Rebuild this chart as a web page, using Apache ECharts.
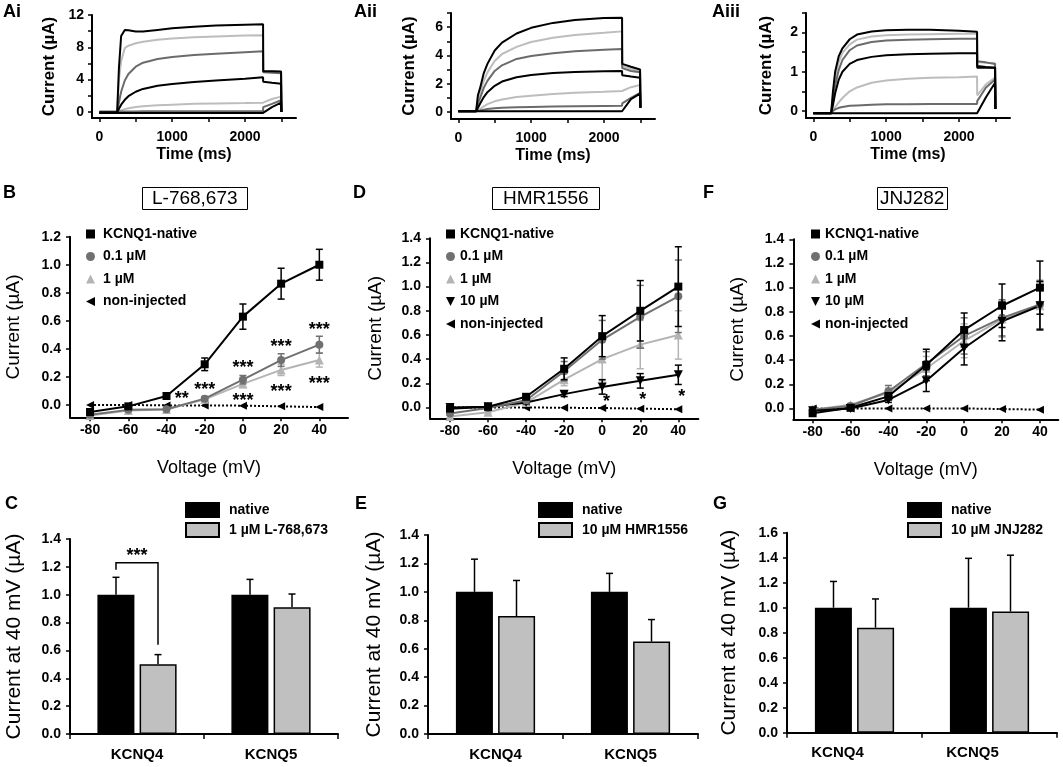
<!DOCTYPE html>
<html><head><meta charset="utf-8">
<script src="https://cdn.jsdelivr.net/npm/echarts@6/dist/echarts.min.js"></script>
<style>html,body{margin:0;padding:0;background:#fff}#c{width:1063px;height:767px}</style>
</head><body><div id="c"></div>
<script>
// ===================== DATA =====================
// Row A: current traces (µA) sampled at these times (ms)
const traceTimes = [0, 245, 270, 300, 350, 400, 500, 600, 800, 1000, 1300, 1600, 2000, 2248, 2250, 2370, 2495, 2500];
const aiTraces = [
  [-0.1, -0.1, 5.5, 9.4, 10.15, 10.1, 9.95, 9.95, 10.15, 10.35, 10.55, 10.7, 10.8, 10.85, 5.05, 5.05, 5.0, 0],
  [-0.05, -0.05, 4.0, 6.3, 7.9, 8.2, 8.5, 8.7, 8.95, 9.1, 9.25, 9.35, 9.45, 9.5, 5.0, 5.0, 4.95, 0],
  [0, 0, 1.2, 2.5, 3.9, 4.7, 5.6, 6.1, 6.55, 6.8, 7.05, 7.2, 7.4, 7.5, 4.9, 4.85, 4.8, 0],
  [-0.05, -0.05, 0.4, 0.9, 1.5, 1.95, 2.5, 2.85, 3.25, 3.45, 3.7, 3.9, 4.1, 4.3, 3.75, 3.6, 3.5, 0],
  [0, 0, 0.1, 0.2, 0.35, 0.45, 0.6, 0.7, 0.82, 0.9, 1.0, 1.05, 1.1, 1.15, 1.35, 1.6, 1.9, 0],
  [0.05, 0.05, 0.05, 0.06, 0.06, 0.07, 0.07, 0.08, 0.08, 0.09, 0.09, 0.1, 0.1, 0.1, 0.6, 1.0, 1.45, 0],
  [-0.12, -0.12, -0.12, -0.12, -0.12, -0.12, -0.12, -0.12, -0.12, -0.12, -0.12, -0.12, -0.12, -0.12, -0.05, 0.6, 1.15, 0]
];
const aiiTraces = [
  [0.05, 0.05, 1.2, 1.7, 2.75, 3.4, 4.35, 4.9, 5.55, 5.95, 6.3, 6.5, 6.65, 6.67, 3.4, 3.2, 3.0, 0.3],
  [0.05, 0.05, 0.9, 1.4, 2.2, 2.8, 3.6, 4.1, 4.6, 4.95, 5.25, 5.45, 5.6, 5.7, 3.25, 3.05, 2.85, 0.3],
  [0.05, 0.05, 0.6, 1.0, 1.7, 2.2, 2.9, 3.3, 3.75, 3.95, 4.15, 4.3, 4.4, 4.45, 3.1, 2.9, 2.8, 0.3],
  [0.05, 0.05, 0.3, 0.6, 1.05, 1.4, 1.85, 2.15, 2.45, 2.62, 2.75, 2.82, 2.88, 2.9, 2.6, 2.5, 2.42, 0.3],
  [0.05, 0.05, 0.1, 0.2, 0.4, 0.55, 0.75, 0.88, 1.05, 1.15, 1.27, 1.35, 1.42, 1.48, 1.6, 1.75, 1.9, 0.3],
  [0.05, 0.05, 0.07, 0.1, 0.15, 0.2, 0.26, 0.3, 0.33, 0.35, 0.38, 0.4, 0.42, 0.43, 0.6, 1.0, 1.35, 0.3],
  [0.05, 0.05, 0.05, 0.05, 0.05, 0.05, 0.05, 0.05, 0.05, 0.05, 0.05, 0.05, 0.05, 0.05, 0.1, 0.9, 1.3, 0.3]
];
const aiiiTraces = [
  [-0.06, -0.06, 0.5, 1.0, 1.4, 1.6, 1.83, 1.95, 2.03, 2.06, 2.07, 2.07, 2.05, 2.02, 1.15, 1.12, 1.1, 0.05],
  [-0.06, -0.06, 0.35, 0.85, 1.25, 1.48, 1.7, 1.82, 1.9, 1.93, 1.95, 1.96, 1.97, 1.97, 1.25, 1.23, 1.22, 0.05],
  [-0.06, -0.06, 0.25, 0.65, 1.05, 1.3, 1.55, 1.67, 1.76, 1.8, 1.82, 1.83, 1.84, 1.84, 1.27, 1.24, 1.2, 0.05],
  [-0.06, -0.06, 0.15, 0.45, 0.8, 1.0, 1.2, 1.3, 1.38, 1.42, 1.45, 1.46, 1.47, 1.47, 1.1, 1.1, 1.1, 0.05],
  [-0.06, -0.06, 0.03, 0.1, 0.22, 0.33, 0.5, 0.6, 0.72, 0.78, 0.82, 0.85, 0.86, 0.88, 0.4, 0.68, 0.85, 0.05],
  [-0.06, -0.06, 0.0, 0.04, 0.08, 0.1, 0.13, 0.14, 0.16, 0.17, 0.17, 0.18, 0.18, 0.18, 0.25, 0.6, 0.8, 0.05],
  [-0.06, -0.06, -0.06, -0.06, -0.06, -0.06, -0.06, -0.06, -0.06, -0.06, -0.06, -0.06, -0.06, -0.06, -0.05, 0.35, 0.72, 0.05]
];
const timeTicks = [0, 500, 1000, 1500, 2000, 2500];
const timeLabels = [0, 1000, 2000];

// Rows B/D/F: I-V curves
const voltages = [-80, -60, -40, -20, 0, 20, 40];
const bNative = [-0.05, -0.01, 0.064, 0.29, 0.63, 0.865, 1.0];
const bNativeErr = [0.01, 0.01, 0.012, 0.045, 0.09, 0.11, 0.11];
const b01 = [-0.07, -0.035, -0.03, 0.045, 0.18, 0.32, 0.43];
const b01Err = [0.01, 0.01, 0.01, 0.015, 0.03, 0.045, 0.06];
const b1 = [-0.075, -0.04, -0.032, 0.04, 0.15, 0.25, 0.32];
const b1Err = [0.01, 0.01, 0.01, 0.015, 0.025, 0.04, 0.05];
const bNon = [0, 0, -0.003, -0.003, -0.005, -0.01, -0.015];

const dNative = [-0.01, 0.005, 0.088, 0.32, 0.59, 0.80, 1.0];
const dNativeErr = [0.01, 0.01, 0.02, 0.09, 0.17, 0.25, 0.33];
const d01 = [-0.05, -0.005, 0.06, 0.30, 0.56, 0.75, 0.92];
const d01Err = [0.01, 0.01, 0.02, 0.08, 0.16, 0.26, 0.30];
const d1 = [-0.075, -0.04, 0.04, 0.23, 0.40, 0.52, 0.60];
const d1Err = [0.01, 0.01, 0.015, 0.05, 0.18, 0.20, 0.20];
const d10 = [0.0, 0.005, 0.04, 0.11, 0.17, 0.22, 0.27];
const d10Err = [0.01, 0.01, 0.01, 0.02, 0.06, 0.06, 0.08];
const dNon = [0, 0, 0, -0.003, -0.005, -0.01, -0.015];

const fNative = [-0.04, 0.005, 0.10, 0.36, 0.65, 0.85, 1.0];
const fNativeErr = [0.01, 0.01, 0.03, 0.13, 0.14, 0.18, 0.22];
const f01 = [-0.01, 0.02, 0.14, 0.37, 0.60, 0.75, 0.86];
const f01Err = [0.01, 0.01, 0.05, 0.10, 0.15, 0.15, 0.20];
const f1 = [-0.01, 0.03, 0.13, 0.33, 0.56, 0.74, 0.85];
const f1Err = [0.01, 0.01, 0.04, 0.10, 0.14, 0.15, 0.20];
const f10 = [-0.02, 0.0, 0.07, 0.23, 0.50, 0.72, 0.85];
const f10Err = [0.01, 0.01, 0.02, 0.09, 0.14, 0.16, 0.20];
const fNon = [0, 0, 0, 0, 0, -0.005, -0.01];

const ivTicksB = [0, 0.2, 0.4, 0.6, 0.8, 1.0, 1.2];
const ivTicksDF = [0, 0.2, 0.4, 0.6, 0.8, 1.0, 1.2, 1.4];

// significance marks [voltage, current, text]
const bStars = [[-32, 0.07, '**'], [-20, 0.135, '***'], [0, 0.29, '***'], [0, 0.06, '***'],
                [20, 0.44, '***'], [20, 0.12, '***'], [40, 0.566, '***'], [40, 0.18, '***']];
const dStars = [[2.3, 0.077, '*'], [21.3, 0.094, '*'], [41.8, 0.118, '*']];

// Rows C/E/G: bar charts
const channels = ['KCNQ4', 'KCNQ5'];
const cNative = [1.0, 1.0], cNativeErr = [0.125, 0.11];
const cDrug = [0.5, 0.91], cDrugErr = [0.07, 0.095];
const eNative = [1.0, 1.0], eNativeErr = [0.23, 0.13];
const eDrug = [0.83, 0.65], eDrugErr = [0.25, 0.155];
const gNative = [1.0, 1.0], gNativeErr = [0.21, 0.395];
const gDrug = [0.84, 0.97], gDrugErr = [0.23, 0.45];
const cBracket = [1.23, 1.18, 0.64, 1.31]; // top, left end, right end, star height

// ===================== RENDER =====================
const FONT = 'Liberation Sans, Arial, sans-serif';
const traceColors = ['#000000', '#bdbdbd', '#6b6b6b', '#000000', '#bdbdbd', '#6b6b6b', '#000000'];
const LEFT_TRI = 'path://M0,5L10,0L10,10Z';
const DOWN_TRI = 'path://M0,0L10,0L5,10Z';

const grids = [
  {left: 92, top: 15, width: 204, height: 103},
  {left: 451, top: 13, width: 204, height: 106},
  {left: 806, top: 13, width: 204, height: 105},
  {left: 70, top: 236.7, width: 278, height: 180.6},
  {left: 430, top: 238.3, width: 268.3, height: 180},
  {left: 793.3, top: 239.3, width: 265, height: 180},
  {left: 70, top: 539, width: 268, height: 195},
  {left: 428, top: 535, width: 270, height: 199},
  {left: 787, top: 532.7, width: 270, height: 200}
];

function base(gridIndex) {
  return {
    gridIndex,
    axisLine: {show: true, onZero: false, lineStyle: {color: '#000', width: 2}},
    axisTick: {show: true, inside: false, length: 4, lineStyle: {color: '#000', width: 1.5}},
    axisLabel: {color: '#000', fontFamily: FONT, fontWeight: 'bold', fontSize: 14},
    splitLine: {show: false},
    nameLocation: 'middle',
    nameTextStyle: {color: '#000', fontFamily: FONT}
  };
}
function valAxis(gi, min, max, ticks, labels, fmt, extra) {
  const a = base(gi);
  a.type = 'value'; a.min = min; a.max = max;
  a.axisTick.customValues = ticks;
  a.axisLabel.customValues = labels;
  a.axisLabel.formatter = fmt || (v => String(v));
  return Object.assign(a, extra || {});
}
const f1d = v => v.toFixed(1);

const xAxes = [], yAxes = [];
// Row A
[[-0.75, 12, [0,2,4,6,8,10,12], [0,4,8,12], 34],
 [-0.5, 7, [0,1,2,3,4,5,6,7], [0,2,4,6], 33],
 [-0.18, 2.5, [0,0.5,1,1.5,2,2.5], [0,1,2], 31]].forEach((c, i) => {
  const xa = valAxis(i, -100, 2700, timeTicks, timeLabels, null,
    {name: 'Time (ms)', nameGap: 29});
  xa.axisLabel.margin = 12;
  xa.nameTextStyle.fontWeight = 'bold'; xa.nameTextStyle.fontSize = 16;
  xAxes.push(xa);
  const ya = valAxis(i, c[0], c[1], c[2], c[3], null, {name: 'Current (µA)', nameGap: c[4]});
  ya.axisLabel.margin = 8;
  ya.nameTextStyle.fontWeight = 'bold'; ya.nameTextStyle.fontSize = 17;
  yAxes.push(ya);
});
// Row B/D/F
[[3, -90.5, 55, -0.088, 1.2, ivTicksB, 47],
 [4, -90.5, 50.5, -0.09, 1.4, ivTicksDF, 45],
 [5, -90.2, 49.7, -0.09, 1.4, ivTicksDF, 46]].forEach(c => {
  const xa = valAxis(c[0], c[1], c[2], voltages, voltages, null, {name: 'Voltage (mV)', nameGap: 42});
  xa.axisLabel.margin = 6; xa.nameTextStyle.fontSize = 18;
  xAxes.push(xa);
  const ya = valAxis(c[0], c[3], c[4], c[5], c[5], f1d, {name: 'Current (µA)', nameGap: c[6]});
  ya.axisLabel.margin = 9; ya.nameTextStyle.fontSize = 19;
  yAxes.push(ya);
});
// Row C/E/G
[[6, 1.4, 45, 0], [7, 1.4, 43, 0], [8, 1.6, 47, 34]].forEach(c => {
  const xa = base(c[0]);
  xa.type = 'category'; xa.data = channels;
  xa.axisTick.length = 5; xa.axisTick.alignWithLabel = false;
  xa.axisLabel.fontSize = 15; xa.axisLabel.margin = 13;
  xa.axisLabel.padding = [0, c[3], 0, 0];
  xAxes.push(xa);
  const ya = base(c[0]);
  Object.assign(ya, {type: 'value', min: 0, max: c[1], interval: 0.2, name: 'Current at 40 mV (µA)', nameGap: c[2]});
  ya.axisLabel.formatter = f1d; ya.axisLabel.margin = 9;
  ya.nameTextStyle.fontSize = 21;
  yAxes.push(ya);
});

const series = [];
// traces
[aiTraces, aiiTraces, aiiiTraces].forEach((traces, gi) => {
  traces.forEach((vals, k) => {
    series.push({
      type: 'line', xAxisIndex: gi, yAxisIndex: gi, symbol: 'none', silent: true,
      z: k % 3 === 0 ? 3 : 2,
      data: traceTimes.map((t, i) => [t, vals[i]]),
      lineStyle: {color: traceColors[k], width: 2}
    });
  });
});

const ivStyle = {
  'KCNQ1-native': {color: '#000', symbol: 'rect', size: 8, rotate: 0, type: 'solid', z: 6},
  '0.1 µM': {color: '#707070', symbol: 'circle', size: 8, rotate: 0, type: 'solid', z: 5},
  '1 µM': {color: '#b4b4b4', symbol: 'triangle', size: 9, rotate: 0, type: 'solid', z: 4},
  '10 µM': {color: '#000', symbol: 'triangle', size: 9, rotate: 180, type: 'solid', z: 5},
  'non-injected': {color: '#000', symbol: 'triangle', size: 8, rotate: 90, type: 'dotted', z: 3}
};
function errBars(gi, xs, ys, es, color, z) {
  return {
    type: 'custom', xAxisIndex: gi, yAxisIndex: gi, silent: true, z: z,
    encode: {x: 0, y: 1},
    data: xs.map((x, i) => [x, ys[i], es[i]]),
    renderItem: (p, api) => {
      const x = api.value(0), y = api.value(1), e = api.value(2);
      const t = api.coord([x, y + e]), b = api.coord([x, y - e]);
      const w = 3.5, st = {stroke: color, lineWidth: 1.5};
      return {type: 'group', children: [
        {type: 'line', shape: {x1: t[0], y1: t[1], x2: b[0], y2: b[1]}, style: st},
        {type: 'line', shape: {x1: t[0] - w, y1: t[1], x2: t[0] + w, y2: t[1]}, style: st},
        {type: 'line', shape: {x1: b[0] - w, y1: b[1], x2: b[0] + w, y2: b[1]}, style: st}
      ]};
    }
  };
}
function ivSeries(gi, name, ys, es) {
  const s = ivStyle[name];
  if (es) series.push(errBars(gi, voltages, ys, es, s.color, s.z - 0.5));
  series.push({
    type: 'line', name, xAxisIndex: gi, yAxisIndex: gi, silent: true, z: s.z,
    data: voltages.map((v, i) => [v, ys[i]]),
    symbol: s.symbol, symbolSize: s.size, symbolRotate: s.rotate, showSymbol: true,
    itemStyle: {color: s.color},
    lineStyle: {color: s.color, width: 2, type: s.type}
  });
}
ivSeries(3, 'non-injected', bNon, null);
ivSeries(3, '1 µM', b1, b1Err);
ivSeries(3, '0.1 µM', b01, b01Err);
ivSeries(3, 'KCNQ1-native', bNative, bNativeErr);

ivSeries(4, 'non-injected', dNon, null);
ivSeries(4, '1 µM', d1, d1Err);
ivSeries(4, '10 µM', d10, d10Err);
ivSeries(4, '0.1 µM', d01, d01Err);
ivSeries(4, 'KCNQ1-native', dNative, dNativeErr);

ivSeries(5, 'non-injected', fNon, null);
ivSeries(5, '1 µM', f1, f1Err);
ivSeries(5, '0.1 µM', f01, f01Err);
ivSeries(5, '10 µM', f10, f10Err);
ivSeries(5, 'KCNQ1-native', fNative, fNativeErr);

function starSeries(gi, stars) {
  return {
    type: 'custom', xAxisIndex: gi, yAxisIndex: gi, silent: true, z: 10,
    encode: {x: 0, y: 1},
    data: stars.map(s => [s[0], s[1]]),
    renderItem: (p, api) => {
      const c = api.coord([api.value(0), api.value(1)]);
      const txt = stars[p.dataIndex][2];
      return {type: 'text', x: c[0], y: c[1] + 4, style: {
        text: txt, fill: '#000', font: 'bold 18px ' + FONT,
        align: 'center', verticalAlign: 'middle', textAlign: 'center', textVerticalAlign: 'middle'}};
    }
  };
}
series.push(starSeries(3, bStars));
series.push(starSeries(4, dStars));

// bars
const BAR_W = 37, BAR_OFF = 21;
function barPanel(gi, drugName, nat, natErr, drug, drugErr) {
  series.push({type: 'bar', name: 'native', xAxisIndex: gi, yAxisIndex: gi, silent: true,
    data: nat, barWidth: BAR_W, barGap: '14%',
    itemStyle: {color: '#000', borderColor: '#000', borderWidth: 1.5}});
  series.push({type: 'bar', name: drugName, xAxisIndex: gi, yAxisIndex: gi, silent: true,
    data: drug, barWidth: BAR_W, barGap: '14%',
    itemStyle: {color: '#c0c0c0', borderColor: '#000', borderWidth: 1.5}});
  [[nat, natErr, -BAR_OFF], [drug, drugErr, BAR_OFF]].forEach(([v, e, off]) => {
    series.push({
      type: 'custom', xAxisIndex: gi, yAxisIndex: gi, silent: true, z: 3,
      encode: {x: 0, y: 1},
      data: v.map((val, i) => [i, val, e[i]]),
      renderItem: (p, api) => {
        const i = api.value(0), y = api.value(1), er = api.value(2);
        const b = api.coord([i, y]), t = api.coord([i, y + er]);
        const st = {stroke: '#000', lineWidth: 1.5};
        return {type: 'group', children: [
          {type: 'line', shape: {x1: b[0] + off, y1: b[1], x2: t[0] + off, y2: t[1]}, style: st},
          {type: 'line', shape: {x1: t[0] + off - 3.5, y1: t[1], x2: t[0] + off + 3.5, y2: t[1]}, style: st}
        ]};
      }
    });
  });
}
barPanel(6, '1 µM L-768,673', cNative, cNativeErr, cDrug, cDrugErr);
barPanel(7, '10 µM HMR1556', eNative, eNativeErr, eDrug, eDrugErr);
barPanel(8, '10 µM JNJ282', gNative, gNativeErr, gDrug, gDrugErr);

// significance bracket in C
series.push({
  type: 'custom', xAxisIndex: 6, yAxisIndex: 6, silent: true, z: 5,
  encode: {x: 0, y: 1},
  data: [[0, cBracket[0]]],
  renderItem: (p, api) => {
    const top = api.coord([0, cBracket[0]]), le = api.coord([0, cBracket[1]]),
          re = api.coord([0, cBracket[2]]), sy = api.coord([0, cBracket[3]]);
    const xl = top[0] - BAR_OFF, xr = top[0] + BAR_OFF;
    const st = {stroke: '#000', lineWidth: 1.5, fill: 'none'};
    return {type: 'group', children: [
      {type: 'polyline', shape: {points: [[xl, le[1]], [xl, top[1]], [xr, top[1]], [xr, re[1]]]}, style: st},
      {type: 'text', x: top[0], y: sy[1] + 4, style: {text: '***', fill: '#000', font: 'bold 18px ' + FONT,
        align: 'center', verticalAlign: 'middle', textAlign: 'center', textVerticalAlign: 'middle'}}
    ]};
  }
});

// legends
const legText = {fontFamily: FONT, fontWeight: 'bold', fontSize: 14, color: '#000', lineHeight: 14};
function ivLegend(left, names, textPad) {
  const icons = {'KCNQ1-native': 'rect', '0.1 µM': 'circle', '1 µM': 'triangle', '10 µM': DOWN_TRI, 'non-injected': LEFT_TRI};
  return {orient: 'vertical', left, top: 227, padding: 0, itemWidth: 9, itemHeight: 9, itemGap: 8.5,
    selectedMode: false, textStyle: Object.assign({}, legText, {padding: [0, 0, 0, textPad]}),
    data: names.map(n => ({name: n, icon: icons[n]}))};
}
function barLegend(left, drugName) {
  return {orient: 'vertical', left, top: 502, padding: 0, itemWidth: 33, itemHeight: 14, itemGap: 4,
    selectedMode: false, textStyle: Object.assign({}, legText, {padding: [0, 0, 0, 5]}),
    data: [{name: 'native', icon: 'rect'}, {name: drugName, icon: 'rect'}]};
}
const legends = [
  ivLegend(86, ['KCNQ1-native', '0.1 µM', '1 µM', 'non-injected'], 3),
  ivLegend(446, ['KCNQ1-native', '0.1 µM', '1 µM', '10 µM', 'non-injected'], 0),
  ivLegend(811, ['KCNQ1-native', '0.1 µM', '1 µM', '10 µM', 'non-injected'], 0),
  barLegend(185, '1 µM L-768,673'),
  barLegend(538, '10 µM HMR1556'),
  barLegend(907, '10 µM JNJ282')
];

// panel letters and boxed drug titles
const letter = (text, left, top) => ({text, left, top, padding: 0,
  textStyle: {fontFamily: FONT, fontWeight: 'bold', fontSize: 18, color: '#000'}});
const boxed = (text, left, top, px) => ({text, left, top, padding: [2, px], borderWidth: 1, borderColor: '#000',
  textStyle: {fontFamily: FONT, fontWeight: 'normal', fontSize: 19, color: '#000'}});
const titles = [
  letter('Ai', 3, 3), letter('Aii', 354, 3), letter('Aiii', 712, 3),
  letter('B', 3, 184), letter('D', 353, 184), letter('F', 703, 184),
  letter('C', 5, 495), letter('E', 355, 495), letter('G', 713, 495),
  boxed('L-768,673', 142, 187, 10), boxed('HMR1556', 492, 187, 11), boxed('JNJ282', 877, 187, 3)
];

const chart = echarts.init(document.getElementById('c'), null, {renderer: 'canvas'});
chart.setOption({
  animation: false,
  backgroundColor: '#fff',
  title: titles,
  legend: legends,
  grid: grids,
  xAxis: xAxes,
  yAxis: yAxes,
  series
});
</script>
</body></html>
